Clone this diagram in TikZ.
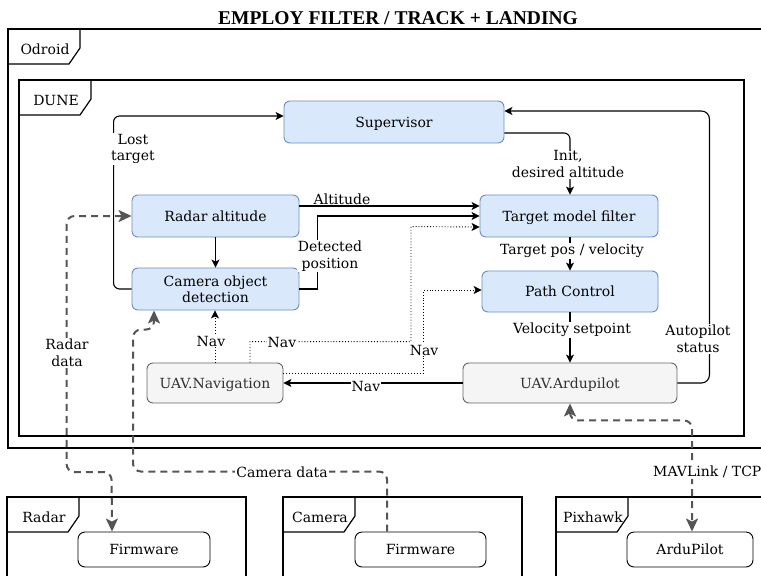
\documentclass[tikz,border=0pt]{standalone}
\usepackage{fontspec}
\setmainfont{DejaVu Serif}
\newfontfamily\titlefont{Liberation Serif}
\usetikzlibrary{arrows.meta,calc}

\definecolor{bluefill}{HTML}{DAE8FC}
\definecolor{bluedraw}{HTML}{6C8EBF}
\definecolor{grayfill}{HTML}{F5F5F5}
\definecolor{graydraw}{HTML}{666666}
\definecolor{graytext}{HTML}{333333}
\definecolor{dashgray}{HTML}{555555}

\tikzset{
  framestyle/.style={draw=black, line width=1.2pt},
  pics/frametab/.style={code={
    \draw[framestyle] (0,35) -- (61,35) -- (72,19) -- (72,0);
    \node at (37,20) {#1};
  }},
  blockbox/.style={draw=bluedraw, fill=bluefill, line width=0.9pt,
    rounded corners=6pt, align=center, inner sep=0pt, text depth=0pt},
  uavbox/.style={draw=graydraw, fill=grayfill, text=graytext, line width=0.9pt,
    rounded corners=6pt, align=center, inner sep=0pt, text depth=0pt},
  fwbox/.style={draw=black, fill=white, line width=0.9pt,
    rounded corners=7pt, align=center, inner sep=0pt, text depth=0pt},
  conn/.style={draw=black, line width=1.1pt,
    -{Stealth[length=8pt,width=8pt,inset=2pt]}},
  navline/.style={draw=black, line width=0.9pt, dotted,
    -{Stealth[length=8pt,width=8pt,inset=2pt]}},
  dataline/.style={draw=dashgray, line width=2pt, dash pattern=on 7pt off 5pt,
    rounded corners=8pt},
  datatip/.tip={Stealth[length=13pt,width=12pt,inset=3pt]},
  lbl/.style={fill=white, inner sep=1pt, align=center},
}

\begin{document}
\begin{tikzpicture}[x=1pt, y=-1pt, font=\fontsize{14}{16.5}\selectfont]
\useasboundingbox (0,0) rectangle (761,576);
\clip (0,0) rectangle (761,576);

% title
\node[font=\titlefont\bfseries\fontsize{19.5}{22}\selectfont] (title) at (398,18) {EMPLOY FILTER / TRACK + LANDING};

% outer frames
\draw[framestyle] (8,29) rectangle (790,448);
\pic at (8,29) {frametab=Odroid};
\draw[framestyle] (19,80) rectangle (744,436);
\pic at (19,80) {frametab=DUNE};

\draw[framestyle] (7,497) rectangle (246,600);
\pic at (7,497) {frametab=Radar};
\draw[framestyle] (283,497) rectangle (522,600);
\pic at (283,497) {frametab=Camera};
\draw[framestyle] (556,497) rectangle (790,600);
\pic at (556,497) {frametab=Pixhawk};

% DUNE tasks
\node[blockbox, minimum width=220pt, minimum height=42pt] (sup) at (394,122) {Supervisor};
\node[blockbox, minimum width=167pt, minimum height=42pt] (radar) at (215.5,216) {Radar altitude};
\node[blockbox, minimum width=167pt, minimum height=42pt] (cam) at (215.5,289) {Camera object\\detection};
\node[blockbox, minimum width=178pt, minimum height=42pt] (tmf) at (569,216) {Target model filter};
\node[blockbox, minimum width=176pt, minimum height=41pt] (pc) at (570,291.5) {Path Control};
\node[uavbox, minimum width=136pt, minimum height=40pt] (nav) at (215,383) {UAV.Navigation};
\node[uavbox, minimum width=214pt, minimum height=40pt] (ardu) at (570,383) {UAV.Ardupilot};

% hardware
\node[fwbox, minimum width=132pt, minimum height=35pt] (fwr) at (144,549.5) {Firmware};
\node[fwbox, minimum width=131pt, minimum height=35pt] (fwc) at (420.5,549.5) {Firmware};
\node[fwbox, minimum width=126pt, minimum height=35pt] (fwp) at (690,549.5) {ArduPilot};

% lost target back to supervisor
\coordinate (lt1) at ($(cam.west)+(-18,0)$);
\coordinate (lt2) at ($(sup.west)+(-170,-6)$);
\draw[conn, rounded corners=6pt] (cam.west) -- (lt1) -- (lt2) -- ($(sup.west)+(0,-6)$);
\node[lbl] (ltlbl) at (133,149) {Lost\\target};

% init / desired altitude
\draw[conn, rounded corners=6pt] ($(sup.east)+(0,11)$) -| ($(tmf.north)+(1,0)$);
\node[lbl] (initlbl) at (568,164) {Init,\\desired altitude};

% altitude
\draw[conn] ($(radar.east)+(0,-10)$) -- ($(tmf.west)+(0,-10)$);
\node[inner sep=1pt, anchor=south] (altlbl) at (342,206) {Altitude};

% detected position
\coordinate (dp1) at ($(cam.east)+(18,0)$);
\draw[conn] (cam.east) -- (dp1) |- (tmf.west);
\node[lbl] (dplbl) at (330,256) {Detected\\position};

% radar altitude to camera
\draw[conn] (radar.south) -- (cam.north);

% navigation data (dotted)
\draw[navline] ($(nav.north)+(35,0)$) -- ++(0,-21) -- ++(161,0) -- ++(0,-115) -- ($(tmf.west)+(0,11)$);
\node[lbl] (nav1lbl) at (282,342) {Nav};
\draw[navline] ($(nav.east)+(0,-10)$) -- ++(140,0) -- ++(0,-83) -- ($(pc.west)+(0,-1.5)$);
\node[lbl] (nav2lbl) at (424,350) {Nav};
\draw[navline] (nav.north) -- ($(cam.south)+(-0.5,0)$);
\node[lbl] (nav3lbl) at (211,341) {Nav};

% ardupilot to navigation
\draw[conn] (ardu.west) -- (nav.east);
\node[lbl] (nav4lbl) at (366,386) {Nav};

% pipeline on the right
\draw[conn] ($(tmf.south)+(1,0)$) -- (pc.north);
\node[lbl] (tpvlbl) at (572,251) {Target pos / velocity};
\draw[conn] (pc.south) -- (ardu.north);
\node[lbl] (vslbl) at (572,330) {Velocity setpoint};

% autopilot status
\coordinate (as1) at ($(ardu.east)+(32,0)$);
\draw[conn, rounded corners=8pt] (ardu.east) -- (as1) |- ($(sup.east)+(0,-11)$);
\node[lbl] (aslbl) at (698,339) {Autopilot\\status};

% radar data
\draw[dataline, datatip-datatip] (radar.west) -- ++(-65,0) -- ++(0,256) -- ++(45,0) -- ($(fwr.north)+(-32,0)$);
\node[lbl] (rdlbl) at (67,353) {Radar\\data};

% camera data
\draw[dataline, -datatip] ($(fwc.north)+(-33.5,0)$) -- ++(0,-60) -- ++(-254,0) -- ++(0,-142) -- ++(21,0) -- ($(cam.south)+(-61.5,0)$);
\node[lbl] (cdlbl) at (282,472) {Camera data};

% MAVLink
\draw[dataline, datatip-datatip] (ardu.south) -- ++(0,17) -- ++(122,0) -- ($(fwp.north)+(2,0)$);
\node[lbl, anchor=west] (mavlbl) at (652,472) {MAVLink / TCP};
\end{tikzpicture}
\end{document}
